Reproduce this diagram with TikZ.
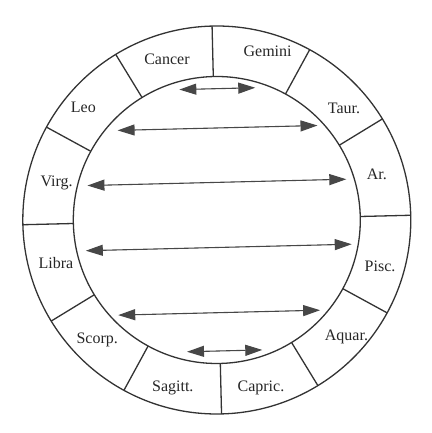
\documentclass[tikz,border=0pt]{standalone}
\usepackage{fontspec}
\setmainfont{Liberation Serif}
\usetikzlibrary{arrows.meta}

\begin{document}
\begin{tikzpicture}[
  x=1pt, y=1pt,
  ring/.style={draw=black!80, line width=1.3pt},
  spoke/.style={draw=black!80, line width=1.3pt},
  sign/.style={font=\fontsize{16}{19}\selectfont, text=black!85, inner sep=0pt},
  pair/.style={{Triangle[length=17pt,width=11pt]}-{Triangle[length=17pt,width=11pt]}, draw=black!72, fill=black!72, line width=1.1pt},
]
\useasboundingbox (0,0) rectangle (431,433);
\coordinate (c) at (216.8,213);

% === Rings and sector dividers (the whole figure is turned a little) ===
\begin{scope}[shift={(c)}, rotate=1.4]
  \draw[ring] (0,0) circle (194);
  \draw[ring] (0,0) circle (143.5);
  \foreach \a in {0,30,...,330}
    \draw[spoke] (\a:143.5) -- (\a:194);

  % === Opposite signs ===
  \foreach \i/\xl/\xr/\yy in {1/-34.3/41.7/131.3, 2/-97/103/92, 3/-128.5/130.5/37.6,
                             4/-131.7/134.3/-27.5, 5/-100.9/101.1/-92.7, 6/-33/42.3/-131}{
    \coordinate (al\i) at (\xl,\yy);
    \coordinate (ar\i) at (\xr,\yy);
    \draw[pair] (al\i) -- (ar\i);
  }
\end{scope}

% === Sign names ===
\begin{scope}[shift={(c)}]
  \foreach \nm/\ang/\rad/\txt in {cancer/107.2/168.5/Cancer, gemini/73.2/175.8/Gemini,
                                  taur/41.3/169.3/Taur., ar/16/166.4/Ar.,
                                  pisc/-15.7/169.6/Pisc., aquar/-42/174.5/Aquar.,
                                  capric/-75.3/174/Capric., sagitt/-104.7/173.4/Sagitt.,
                                  scorp/-134.9/169.4/Scorp., libra/-165.1/166.4/Libra,
                                  virg/166.8/164.5/Virg., leo/139.8/174.7/Leo}
    \node[sign] (\nm) at (\ang:\rad) {\txt};
\end{scope}

\end{tikzpicture}
\end{document}
